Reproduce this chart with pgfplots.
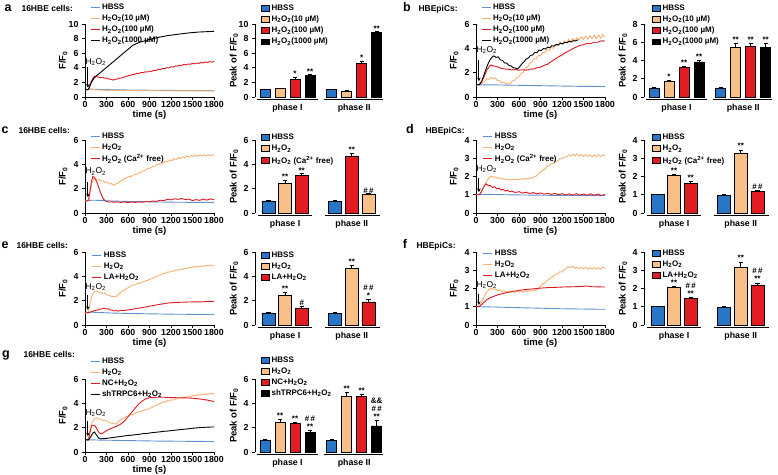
\documentclass[border=0pt]{standalone}
\usepackage{fontspec}
\setmainfont{Liberation Sans}
\usepackage{pgfplots}
\pgfplotsset{compat=1.18}
\usetikzlibrary{arrows.meta}
\definecolor{lblue}{RGB}{95,145,210}
\definecolor{ltan}{RGB}{244,178,115}
\definecolor{lred}{RGB}{222,25,35}
\definecolor{bblue}{RGB}{40,118,200}
\definecolor{btan}{RGB}{248,192,135}
\definecolor{bred}{RGB}{226,28,32}
\newcommand{\tf}{\bfseries\fontsize{8.8}{10}\selectfont}
\newcommand{\lgf}{\bfseries\fontsize{8}{9}\selectfont}
\newcommand{\labf}{\bfseries\fontsize{9.5}{11}\selectfont}
\newcommand{\nf}{\fontsize{8.5}{9}\selectfont}
\newcommand{\letf}{\bfseries\fontsize{12.5}{13}\selectfont}
\newcommand{\cellf}{\bfseries\fontsize{8.5}{10}\selectfont}
\newcommand{\HH}{H\textsubscript{2}O\textsubscript{2}}
\newcommand{\st}[3]{\node[anchor=south, inner sep=0pt, font=\lgf, align=center] at (axis cs:#1,#2) {#3};}
\newcommand{\grp}[2]{\draw[line width=0.9pt] ([yshift=-2.5pt]axis cs:#1,0) -- ([yshift=-2.5pt]axis cs:#2,0);}
\newcommand{\ph}[2]{\node[font=\tf, anchor=center] at ([yshift=-11.5pt]axis cs:#1,0) {#2};}
\newcommand{\arr}[3]{\draw[-{Stealth[length=3.5pt,width=3.5pt]}, line width=0.8pt] (axis cs:40,#1) -- (axis cs:40,#2);
  \node[anchor=west, font=\nf, inner sep=0pt] at (axis cs:5,#3) {\HH};}
\pgfplotsset{
 common/.style={scale only axis, height=73pt, axis lines=left,
   axis line style={-, line width=0.9pt}, tick style={line width=0.9pt, black},
   tick align=outside, major tick length=3pt,
   /pgf/number format/assume math mode=true, /pgf/number format/1000 sep={},
   tick label style={font=\tf},
   label style={font=\labf}, ymin=0, clip=false, legend cell align=left,
   legend style={draw=none, fill=none, font=\lgf, inner sep=0pt, outer sep=0pt,
     row sep=0pt, anchor=north west, cells={anchor=west}}},
 lineax/.style={common, width=129pt, xmin=0, xmax=1800, xtick={0,300,...,1800},
   xticklabel style={inner sep=1.5pt},
   xlabel={time (s)}, ylabel={F/F\textsubscript{0}},
   xlabel style={at={(axis description cs:0.5,-0.25)}, anchor=center},
   ylabel style={at={(axis description cs:-0.17,0.5)}, anchor=center},
   legend image code/.code={\draw[##1, line width=1pt] (0pt,0pt) -- (9pt,0pt);},
   every axis plot/.append style={line width=0.9pt}},
 barax/.style={common, width=128pt, ylabel={Peak of F/F\textsubscript{0}},
   ylabel style={at={(axis description cs:-0.165,0.5)}, anchor=center},
   x axis line style={draw=none}, xtick=\empty},
 four/.style={barax, xmin=0.33, xmax=8.87},
 three/.style={barax, xmin=0.2, xmax=7.87},
 bs/.style={ybar, bar width=#1, bar shift=0pt, draw=black, line width=0.6pt,
   legend image code/.code={\draw[##1, line width=0.6pt] (0pt,-2.8pt) rectangle (8pt,2.8pt);}},
 eb/.style={error bars/.cd, y dir=plus, y explicit,
   error bar style={line width=0.8pt, black},
   error mark options={rotate=90, mark size=2.2pt, line width=0.8pt, black}},
}
\begin{document}
\begin{tikzpicture}[x=1pt,y=1pt]
\useasboundingbox (0,0) rectangle (778,474);
% panel labels
\node[font=\letf, anchor=base] at (8,462) {a};
\node[font=\cellf, anchor=base west] at (18,462) {16HBE cells:};
\node[font=\letf, anchor=base] at (407,462) {b};
\node[font=\cellf, anchor=base west] at (415,462) {HBEpiCs:};
\node[font=\letf, anchor=base] at (5,340) {c};
\node[font=\cellf, anchor=base west] at (15,340) {16HBE cells:};
\node[font=\letf, anchor=base] at (410,340) {d};
\node[font=\cellf, anchor=base west] at (422,340) {HBEpiCs:};
\node[font=\letf, anchor=base] at (5,225) {e};
\node[font=\cellf, anchor=base west] at (13,225) {16HBE cells:};
\node[font=\letf, anchor=base] at (405,225) {f};
\node[font=\cellf, anchor=base west] at (413,225) {HBEpiCs:};
\node[font=\letf, anchor=base] at (6,117) {g};
\node[font=\cellf, anchor=base west] at (20,117) {16HBE cells:};

% ---------------- a line
\begin{axis}[lineax, at={(85pt,377pt)}, anchor=south west, ymax=10, ytick={0,2,...,10},
  legend style={at={(axis description cs:0.039,1.308)}}]
\addplot[lblue] coordinates {(0,1.0) (40,1.0) (60,1.08) (100,1.07) (200,1.04) (300,1.01) (400,0.99) (500,0.98) (600,0.96) (800,0.94) (1000,0.92) (1200,0.9) (1400,0.89) (1600,0.88) (1800,0.87)};
\addlegendentry{HBSS}
\addplot[ltan] coordinates {(0,0.98) (40,0.98) (60,1.02) (100,1.0) (200,0.96) (300,0.93) (400,0.91) (600,0.89) (800,0.87) (1000,0.86) (1200,0.85) (1400,0.84) (1600,0.83) (1800,0.83)};
\addlegendentry{\HH(10 µM)}
\addplot[lred] coordinates {(0,1.0) (30,1.02) (50,1.05) (60,1.3) (75,1.8) (90,2.2) (105,2.5) (120,2.72) (135,2.85) (150,2.78) (180,2.76) (210,2.64) (240,2.7) (270,2.58) (300,2.6) (330,2.46) (360,2.44) (390,2.32) (420,2.42) (450,2.46) (480,2.58) (510,2.6) (540,2.72) (570,2.78) (600,2.92) (630,2.95) (660,3.1) (690,3.1) (720,3.24) (750,3.22) (780,3.36) (810,3.32) (840,3.45) (870,3.42) (900,3.54) (930,3.5) (960,3.66) (990,3.64) (1020,3.78) (1050,3.76) (1080,3.9) (1110,3.88) (1140,4.02) (1170,3.98) (1200,4.14) (1230,4.1) (1260,4.26) (1290,4.22) (1320,4.36) (1350,4.32) (1380,4.46) (1410,4.4) (1440,4.52) (1470,4.48) (1500,4.6) (1530,4.54) (1560,4.66) (1590,4.6) (1620,4.72) (1650,4.66) (1680,4.8) (1710,4.72) (1740,4.84) (1770,4.78) (1800,4.88)};
\addlegendentry{\HH(100 µM)}
\addplot[black] coordinates {(0,1.0) (40,1.0) (60,1.3) (90,2.0) (120,2.5) (160,2.9) (250,3.64) (350,4.46) (450,5.29) (550,6.11) (670,7.1) (750,7.45) (850,7.75) (950,8.0) (1040,8.2) (1150,8.4) (1300,8.6) (1450,8.78) (1590,8.9) (1700,8.95) (1800,9.0)};
\addlegendentry{\HH(1000 µM)}
\arr{4.05}{1.3}{4.8}
\end{axis}

% ---------------- a bar
\begin{axis}[four, at={(255pt,377pt)}, anchor=south west, ymax=10, ytick={0,2,...,10},
  legend style={at={(axis description cs:0.047,1.295)}}]
\addplot[bs=0.667, fill=bblue, eb] coordinates {(1,1.0) +- (0,0.03) (5.45,1.0) +- (0,0.03)};
\addlegendentry{HBSS}
\addplot[bs=0.667, fill=btan, eb] coordinates {(2,1.15) +- (0,0.05) (6.45,0.8) +- (0,0.04)};
\addlegendentry{\HH(10 µM)}
\addplot[bs=0.667, fill=bred, eb] coordinates {(3,2.4) +- (0,0.35) (7.45,4.6) +- (0,0.3)};
\addlegendentry{\HH(100 µM)}
\addplot[bs=0.667, fill=black, eb] coordinates {(4,2.95) +- (0,0.08) (8.45,8.85) +- (0,0.08)};
\addlegendentry{\HH(1000 µM)}
\st{3}{2.8}{*} \st{4}{3.08}{**} \st{7.45}{4.95}{*} \st{8.45}{8.98}{**}
\grp{0.45}{4.55} \grp{4.95}{8.9}
\ph{2.5}{phase I} \ph{6.95}{phase II}
\end{axis}

% ---------------- b line
\begin{axis}[lineax, at={(476pt,377pt)}, anchor=south west, ymax=6, ytick={0,2,4,6},
  legend style={at={(axis description cs:0.039,1.308)}}]
\addplot[lblue] coordinates {(0,1.0) (50,1.0) (200,1.0) (400,0.98) (600,0.96) (800,0.94) (1000,0.92) (1200,0.9) (1400,0.88) (1600,0.87) (1800,0.86)};
\addlegendentry{HBSS}
\addplot[ltan] coordinates {(0,1.0) (30,1.02) (60,1.0) (90,1.2) (120,1.26) (150,1.5) (180,1.44) (210,1.62) (240,1.5) (270,1.56) (300,1.36) (330,1.35) (360,1.16) (390,1.2) (420,1.06) (450,1.16) (480,1.12) (510,1.32) (540,1.36) (570,1.62) (600,1.66) (630,1.96) (660,2.04) (690,2.38) (720,2.44) (750,2.78) (780,2.84) (810,3.14) (840,3.12) (870,3.42) (900,3.38) (930,3.68) (960,3.62) (990,3.9) (1020,3.82) (1050,4.1) (1080,4.0) (1110,4.3) (1140,4.2) (1170,4.48) (1200,4.36) (1230,4.6) (1260,4.44) (1290,4.72) (1320,4.52) (1350,4.8) (1380,4.6) (1410,4.88) (1440,4.68) (1470,4.95) (1500,4.72) (1530,5.0) (1560,4.75) (1590,5.05) (1620,4.78) (1650,5.08) (1680,4.8) (1710,5.1) (1740,4.82) (1770,5.12) (1800,4.9)};
\addlegendentry{\HH(10 µM)}
\addplot[lred] coordinates {(0,1.0) (50,1.02) (100,1.5) (150,2.2) (200,2.62) (250,2.55) (300,2.48) (350,2.36) (400,2.3) (450,2.28) (500,2.22) (550,2.26) (600,2.2) (650,2.24) (700,2.2) (750,2.28) (800,2.3) (850,2.4) (900,2.45) (950,2.6) (1000,2.7) (1050,2.92) (1100,3.1) (1150,3.3) (1200,3.45) (1250,3.66) (1300,3.8) (1350,3.98) (1400,4.1) (1450,4.24) (1500,4.3) (1550,4.4) (1600,4.4) (1650,4.5) (1700,4.5) (1750,4.62) (1800,4.6)};
\addlegendentry{\HH(100 µM)}
\addplot[black] coordinates {(0,1.0) (50,1.02) (80,1.3) (110,1.8) (140,2.3) (170,2.75) (200,3.1) (230,3.3) (250,3.38) (280,3.25) (310,3.3) (340,3.05) (370,3.0) (400,2.8) (430,2.78) (460,2.58) (490,2.55) (520,2.4) (550,2.38) (580,2.3) (610,2.5) (640,2.72) (670,2.9) (700,3.12) (730,3.2) (760,3.42) (790,3.45) (820,3.66) (850,3.65) (880,3.85) (910,3.82) (940,3.98) (970,3.95) (1000,4.1) (1030,4.05) (1060,4.22) (1090,4.18) (1120,4.32) (1150,4.28) (1180,4.42) (1210,4.36) (1240,4.5) (1270,4.46) (1300,4.58) (1330,4.52) (1360,4.64) (1390,4.6) (1420,4.7)};
\addlegendentry{\HH(1000 µM)}
\arr{3.0}{1.3}{3.85}
\end{axis}

% ---------------- b bar
\begin{axis}[four, at={(644pt,377pt)}, anchor=south west, ymax=8, ytick={0,2,...,8},
  legend style={at={(axis description cs:0.0625,1.295)}}]
\addplot[bs=0.667, fill=bblue, eb] coordinates {(1,1.0) +- (0,0.03) (5.45,1.0) +- (0,0.03)};
\addlegendentry{HBSS}
\addplot[bs=0.667, fill=btan, eb] coordinates {(2,1.75) +- (0,0.1) (6.45,5.4) +- (0,0.45)};
\addlegendentry{\HH(10 µM)}
\addplot[bs=0.667, fill=bred, eb] coordinates {(3,3.25) +- (0,0.1) (7.45,5.55) +- (0,0.3)};
\addlegendentry{\HH(100 µM)}
\addplot[bs=0.667, fill=black, eb] coordinates {(4,3.85) +- (0,0.2) (8.45,5.45) +- (0,0.4)};
\addlegendentry{\HH(1000 µM)}
\st{2}{1.9}{*} \st{3}{3.4}{**} \st{4}{4.1}{**}
\st{6.45}{5.9}{**} \st{7.45}{5.9}{**} \st{8.45}{5.9}{**}
\grp{0.45}{4.55} \grp{4.95}{8.9}
\ph{2.5}{phase I} \ph{6.95}{phase II}
\end{axis}

% ---------------- c line
\begin{axis}[lineax, at={(85pt,261pt)}, anchor=south west, ymax=6, ytick={0,2,4,6},
  legend style={at={(axis description cs:0.039,1.13)}}]
\addplot[lblue] coordinates {(0,1.0) (50,1.02) (100,1.05) (200,1.04) (300,1.0) (400,0.98) (600,0.95) (800,0.93) (1000,0.91) (1200,0.89) (1400,0.88) (1600,0.87) (1800,0.86)};
\addlegendentry{HBSS}
\addplot[ltan] coordinates {(0,1.0) (30,1.0) (50,1.05) (70,1.8) (100,2.5) (130,2.85) (160,2.76) (190,2.78) (220,2.62) (250,2.66) (280,2.5) (310,2.54) (340,2.38) (370,2.42) (400,2.28) (430,2.4) (460,2.44) (490,2.62) (520,2.66) (550,2.84) (580,2.86) (610,3.0) (640,2.98) (670,3.12) (700,3.16) (730,3.22) (760,3.32) (790,3.38) (820,3.5) (850,3.52) (880,3.66) (910,3.68) (940,3.82) (970,3.84) (1000,3.98) (1030,3.98) (1060,4.12) (1090,4.1) (1120,4.24) (1150,4.2) (1180,4.36) (1210,4.3) (1240,4.46) (1270,4.4) (1300,4.54) (1330,4.46) (1360,4.62) (1390,4.54) (1420,4.68) (1450,4.6) (1480,4.72) (1510,4.64) (1540,4.76) (1570,4.66) (1600,4.78) (1630,4.68) (1660,4.8) (1690,4.7) (1720,4.8) (1750,4.7) (1780,4.8) (1800,4.74)};
\addlegendentry{\HH}
\addplot[lred] coordinates {(0,1.0) (30,1.0) (50,1.05) (70,1.8) (90,2.6) (110,3.0) (130,2.92) (160,2.62) (190,2.12) (220,1.62) (250,1.22) (280,1.0) (310,0.94) (340,0.9) (370,0.93) (400,0.88) (450,0.92) (500,0.87) (550,0.91) (600,0.86) (650,0.9) (700,0.87) (750,0.92) (800,0.88) (850,0.94) (900,0.92) (950,0.98) (1000,0.96) (1050,1.05) (1100,1.02) (1150,1.12) (1200,1.08) (1250,1.17) (1300,1.12) (1350,1.2) (1400,1.1) (1450,1.14) (1500,1.02) (1550,1.1) (1600,1.04) (1650,1.14) (1700,1.06) (1750,1.16) (1800,1.1)};
\addlegendentry{\HH\ (Ca\textsuperscript{2+} free)}
\arr{2.55}{1.3}{3.4}
\end{axis}

% ---------------- c bar
\begin{axis}[three, at={(255pt,261pt)}, anchor=south west, ymax=6, ytick={0,2,4,6},
  legend style={at={(axis description cs:0.047,1.11)}}]
\addplot[bs=0.78, fill=bblue, eb] coordinates {(1,1.0) +- (0,0.03) (5,0.95) +- (0,0.05)};
\addlegendentry{HBSS}
\addplot[bs=0.78, fill=btan, eb] coordinates {(2,2.4) +- (0,0.3) (7,1.5) +- (0,0.07)};
\addlegendentry{\HH}
\addplot[bs=0.78, fill=bred, eb] coordinates {(3,3.1) +- (0,0.12) (6,4.7) +- (0,0.2)};
\addlegendentry{\HH\ (Ca\textsuperscript{2+} free)}
\st{2}{2.75}{**} \st{3}{3.27}{**} \st{6}{4.95}{**} \st{7}{1.62}{\#\,\#}
\grp{0.4}{3.6} \grp{4.4}{7.7}
\ph{2}{phase I} \ph{6}{phase II}
\end{axis}

% ---------------- d line
\begin{axis}[lineax, at={(476pt,261pt)}, anchor=south west, ymax=4, ytick={0,1,2,3,4},
  legend style={at={(axis description cs:0.054,1.13)}}]
\addplot[lblue] coordinates {(0,1.0) (50,1.0) (100,1.02) (200,1.02) (400,1.0) (600,0.99) (800,0.98) (1000,0.97) (1200,0.96) (1400,0.96) (1600,0.95) (1800,0.95)};
\addlegendentry{HBSS}
\addplot[ltan] coordinates {(0,1.0) (30,1.0) (60,1.08) (90,1.3) (120,1.52) (150,1.75) (180,1.92) (210,2.02) (240,1.96) (270,1.98) (300,1.9) (330,1.93) (360,1.85) (390,1.88) (420,1.82) (450,1.86) (480,1.8) (510,1.85) (540,1.81) (570,1.86) (600,1.82) (630,1.88) (660,1.84) (690,1.9) (720,1.86) (750,1.93) (780,1.9) (810,1.98) (840,2.02) (870,2.16) (900,2.22) (930,2.36) (960,2.4) (990,2.54) (1020,2.58) (1050,2.7) (1080,2.72) (1110,2.84) (1140,2.86) (1170,2.98) (1200,2.96) (1230,3.08) (1260,3.06) (1290,3.18) (1320,3.12) (1350,3.22) (1380,3.14) (1410,3.24) (1440,3.12) (1470,3.2) (1500,3.1) (1530,3.2) (1560,3.1) (1590,3.18) (1620,3.08) (1650,3.18) (1680,3.1) (1710,3.2) (1740,3.1) (1770,3.18) (1800,3.12)};
\addlegendentry{\HH}
\addplot[lred] coordinates {(0,1.0) (30,1.0) (60,1.05) (80,1.2) (110,1.45) (140,1.6) (170,1.5) (200,1.52) (230,1.4) (260,1.44) (290,1.32) (320,1.36) (350,1.26) (380,1.3) (410,1.2) (440,1.25) (470,1.16) (500,1.2) (550,1.12) (600,1.17) (650,1.09) (700,1.14) (750,1.07) (800,1.12) (850,1.05) (900,1.1) (950,1.03) (1000,1.08) (1050,1.02) (1100,1.07) (1150,1.0) (1200,1.06) (1250,0.99) (1300,1.05) (1350,0.98) (1400,1.06) (1450,0.98) (1500,1.04) (1550,0.97) (1600,1.05) (1650,0.97) (1700,1.04) (1750,0.96) (1800,1.02)};
\addlegendentry{\HH\ (Ca\textsuperscript{2+} free)}
\arr{1.9}{1.15}{2.4}
\end{axis}

% ---------------- d bar
\begin{axis}[three, at={(644pt,261pt)}, anchor=south west, ymax=4, ytick={0,1,2,3,4},
  legend style={at={(axis description cs:0.0625,1.11)}}]
\addplot[bs=0.78, fill=bblue, eb] coordinates {(1,1.0) +- (0,0.02) (5,0.97) +- (0,0.04)};
\addlegendentry{HBSS}
\addplot[bs=0.78, fill=btan, eb] coordinates {(2,2.05) +- (0,0.05) (6,3.25) +- (0,0.2)};
\addlegendentry{\HH}
\addplot[bs=0.78, fill=bred, eb] coordinates {(3,1.6) +- (0,0.12) (7,1.2) +- (0,0.05)};
\addlegendentry{\HH\ (Ca\textsuperscript{2+} free)}
\st{2}{2.15}{**} \st{3}{1.77}{**} \st{6}{3.5}{**} \st{7}{1.3}{\#\,\#}
\grp{0.4}{3.6} \grp{4.4}{7.7}
\ph{2}{phase I} \ph{6}{phase II}
\end{axis}

% ---------------- e line
\begin{axis}[lineax, at={(85pt,149pt)}, anchor=south west, ymax=6, ytick={0,2,4,6},
  legend style={at={(axis description cs:0.054,1.034)}}]
\addplot[lblue] coordinates {(0,1.0) (50,1.05) (100,1.05) (200,1.03) (300,1.0) (400,0.98) (600,0.95) (800,0.93) (1000,0.91) (1200,0.89) (1400,0.88) (1600,0.87) (1800,0.86)};
\addlegendentry{HBSS}
\addplot[ltan] coordinates {(0,1.0) (30,1.0) (50,1.05) (70,1.8) (100,2.45) (130,2.75) (160,2.8) (190,2.7) (220,2.72) (250,2.58) (280,2.6) (310,2.46) (340,2.44) (370,2.32) (400,2.36) (430,2.3) (460,2.5) (490,2.62) (520,2.8) (550,2.86) (580,3.02) (610,3.06) (640,3.22) (670,3.28) (700,3.3) (730,3.4) (760,3.42) (790,3.52) (820,3.55) (850,3.64) (880,3.68) (910,3.78) (940,3.82) (970,3.94) (1000,3.96) (1030,4.1) (1060,4.12) (1090,4.26) (1120,4.24) (1150,4.36) (1180,4.34) (1210,4.44) (1240,4.42) (1270,4.52) (1300,4.5) (1330,4.6) (1360,4.56) (1390,4.68) (1420,4.64) (1450,4.74) (1480,4.7) (1510,4.8) (1540,4.74) (1570,4.84) (1600,4.78) (1630,4.88) (1660,4.8) (1690,4.92) (1720,4.84) (1750,4.94) (1780,4.84) (1800,4.9)};
\addlegendentry{\HH}
\addplot[lred] coordinates {(0,1.0) (50,1.02) (80,1.08) (110,1.12) (140,1.2) (170,1.22) (200,1.3) (230,1.32) (260,1.38) (290,1.32) (320,1.34) (350,1.24) (380,1.22) (410,1.16) (440,1.18) (470,1.14) (500,1.2) (550,1.2) (600,1.24) (650,1.28) (700,1.34) (750,1.38) (800,1.44) (850,1.48) (900,1.55) (950,1.6) (1000,1.65) (1050,1.7) (1100,1.75) (1150,1.8) (1200,1.83) (1300,1.86) (1400,1.88) (1500,1.9) (1600,1.9) (1700,1.93) (1800,1.95)};
\addlegendentry{LA+\HH}
\arr{2.5}{1.25}{3.1}
\end{axis}

% ---------------- e bar
\begin{axis}[three, at={(255pt,149pt)}, anchor=south west, ymax=6, ytick={0,2,4,6},
  legend style={at={(axis description cs:0.047,1.034)}}]
\addplot[bs=0.78, fill=bblue, eb] coordinates {(1,1.0) +- (0,0.02) (5,0.97) +- (0,0.05)};
\addlegendentry{HBSS}
\addplot[bs=0.78, fill=btan, eb] coordinates {(2,2.4) +- (0,0.3) (6,4.7) +- (0,0.2)};
\addlegendentry{\HH}
\addplot[bs=0.78, fill=bred, eb] coordinates {(3,1.4) +- (0,0.1) (7,1.9) +- (0,0.2)};
\addlegendentry{LA+\HH}
\st{2}{2.75}{**} \st{3}{1.55}{\#} \st{6}{4.95}{**} \st{7}{2.15}{\#\,\#\\[-1pt]*}
\grp{0.4}{3.6} \grp{4.4}{7.7}
\ph{2}{phase I} \ph{6}{phase II}
\end{axis}

% ---------------- f line
\begin{axis}[lineax, at={(476pt,149pt)}, anchor=south west, ymax=4, ytick={0,1,2,3,4},
  legend style={at={(axis description cs:0.054,1.062)}}]
\addplot[lblue] coordinates {(0,1.0) (50,1.0) (200,0.99) (400,0.97) (600,0.95) (800,0.93) (1000,0.91) (1200,0.89) (1400,0.88) (1600,0.87) (1800,0.86)};
\addlegendentry{HBSS}
\addplot[ltan] coordinates {(0,1.0) (30,1.0) (60,1.1) (90,1.35) (120,1.6) (150,1.82) (180,1.95) (210,2.02) (240,1.95) (270,1.98) (300,1.88) (330,1.92) (360,1.84) (390,1.88) (420,1.8) (450,1.85) (480,1.8) (510,1.84) (540,1.79) (570,1.85) (600,1.8) (630,1.86) (660,1.82) (690,1.88) (720,1.84) (750,1.9) (780,1.86) (810,1.9) (840,1.88) (870,2.02) (900,2.12) (930,2.26) (960,2.3) (990,2.44) (1020,2.5) (1050,2.62) (1080,2.66) (1110,2.78) (1140,2.8) (1170,2.92) (1200,2.9) (1230,3.04) (1260,3.08) (1290,3.2) (1320,3.14) (1350,3.22) (1380,3.1) (1410,3.18) (1440,3.08) (1470,3.16) (1500,3.08) (1530,3.16) (1560,3.06) (1590,3.14) (1620,3.06) (1650,3.14) (1680,3.06) (1710,3.14) (1740,3.06) (1770,3.18) (1800,3.1)};
\addlegendentry{\HH}
\addplot[lred] coordinates {(0,1.0) (50,1.02) (100,1.2) (150,1.38) (200,1.5) (300,1.65) (400,1.75) (500,1.83) (600,1.9) (700,1.95) (800,1.98) (900,2.02) (1000,2.05) (1100,2.06) (1200,2.08) (1300,2.09) (1400,2.1) (1500,2.12) (1550,2.14) (1600,2.1) (1700,2.09) (1800,2.08)};
\addlegendentry{LA+\HH}
\arr{1.7}{1.1}{2.2}
\end{axis}

% ---------------- f bar
\begin{axis}[three, at={(644pt,149pt)}, anchor=south west, ymax=4, ytick={0,1,2,3,4},
  legend style={at={(axis description cs:0.0625,1.062)}}]
\addplot[bs=0.78, fill=bblue, eb] coordinates {(1,1.0) +- (0,0.02) (5,0.97) +- (0,0.04)};
\addlegendentry{HBSS}
\addplot[bs=0.78, fill=btan, eb] coordinates {(2,2.05) +- (0,0.05) (6,3.15) +- (0,0.3)};
\addlegendentry{\HH}
\addplot[bs=0.78, fill=bred, eb] coordinates {(3,1.47) +- (0,0.05) (7,2.2) +- (0,0.1)};
\addlegendentry{LA+\HH}
\st{2}{2.15}{**} \st{3}{1.57}{\#\,\#\\[-1pt]**} \st{6}{3.5}{**} \st{7}{2.35}{\#\,\#\\[-1pt]**}
\grp{0.4}{3.6} \grp{4.4}{7.7}
\ph{2}{phase I} \ph{6}{phase II}
\end{axis}

% ---------------- g line
\begin{axis}[lineax, at={(85pt,22pt)}, anchor=south west, ymax=6, ytick={0,2,4,6},
  legend style={at={(axis description cs:0.039,1.322)}}]
\addplot[lblue] coordinates {(0,1.0) (50,1.0) (100,1.0) (200,0.98) (400,0.96) (600,0.94) (800,0.92) (1000,0.9) (1200,0.89) (1400,0.88) (1600,0.87) (1800,0.86)};
\addlegendentry{HBSS}
\addplot[ltan] coordinates {(0,1.0) (30,1.0) (50,1.05) (70,1.8) (100,2.45) (130,2.75) (160,2.8) (190,2.7) (220,2.72) (250,2.6) (280,2.62) (310,2.5) (340,2.44) (370,2.36) (400,2.34) (430,2.3) (460,2.46) (490,2.6) (520,2.74) (550,2.8) (580,2.94) (610,2.96) (640,3.06) (670,3.1) (700,3.18) (730,3.24) (760,3.3) (790,3.38) (820,3.42) (850,3.5) (880,3.52) (910,3.62) (940,3.66) (970,3.8) (1000,3.84) (1030,3.98) (1060,4.0) (1090,4.12) (1120,4.1) (1150,4.22) (1180,4.2) (1210,4.3) (1240,4.28) (1270,4.38) (1300,4.36) (1330,4.46) (1360,4.42) (1390,4.52) (1420,4.5) (1450,4.6) (1480,4.56) (1510,4.66) (1540,4.62) (1570,4.72) (1600,4.66) (1630,4.76) (1660,4.7) (1690,4.8) (1720,4.74) (1750,4.84) (1780,4.76) (1800,4.82)};
\addlegendentry{\HH}
\addplot[lred] coordinates {(0,1.0) (50,1.02) (70,1.6) (90,2.15) (110,2.2) (140,2.15) (170,1.85) (200,1.55) (230,1.5) (260,1.6) (300,1.75) (350,1.9) (400,2.02) (450,2.15) (500,2.3) (550,2.55) (600,2.9) (650,3.25) (700,3.6) (750,3.95) (800,4.2) (850,4.38) (900,4.46) (1000,4.5) (1100,4.5) (1200,4.47) (1300,4.46) (1400,4.45) (1500,4.42) (1600,4.36) (1700,4.27) (1800,4.15)};
\addlegendentry{NC+\HH}
\addplot[black] coordinates {(0,1.0) (50,1.0) (80,1.25) (110,1.55) (130,1.65) (160,1.4) (190,1.15) (220,1.08) (260,1.1) (300,1.12) (350,1.16) (400,1.2) (450,1.24) (500,1.28) (550,1.32) (600,1.36) (650,1.38) (700,1.42) (750,1.45) (800,1.5) (850,1.52) (900,1.56) (950,1.6) (1000,1.63) (1050,1.66) (1100,1.7) (1150,1.72) (1200,1.76) (1250,1.79) (1300,1.82) (1350,1.85) (1400,1.88) (1450,1.91) (1500,1.95) (1550,1.98) (1600,2.0) (1650,2.02) (1700,2.04) (1750,2.05) (1800,2.06)};
\addlegendentry{shTRPC6+\HH}
\arr{2.55}{1.3}{3.2}
\end{axis}

% ---------------- g bar
\begin{axis}[four, at={(255pt,22pt)}, anchor=south west, ymax=6, ytick={0,2,4,6},
  legend style={at={(axis description cs:0.047,1.336)}}]
\addplot[bs=0.667, fill=bblue, eb] coordinates {(1,1.0) +- (0,0.02) (5.45,0.95) +- (0,0.05)};
\addlegendentry{HBSS}
\addplot[bs=0.667, fill=btan, eb] coordinates {(2,2.45) +- (0,0.2) (6.45,4.6) +- (0,0.3)};
\addlegendentry{\HH}
\addplot[bs=0.667, fill=bred, eb] coordinates {(3,2.35) +- (0,0.1) (7.45,4.55) +- (0,0.2)};
\addlegendentry{NC+\HH}
\addplot[bs=0.667, fill=black, eb] coordinates {(4,1.6) +- (0,0.2) (8.45,2.15) +- (0,0.45)};
\addlegendentry{shTRPC6+\HH}
\st{2}{2.7}{**} \st{3}{2.5}{**} \st{4}{1.85}{\#\,\#\\[-1pt]**}
\st{6.45}{4.95}{**} \st{7.45}{4.8}{**} \st{8.45}{2.65}{\&\&\\[-1pt]\#\,\#\\[-1pt]**}
\grp{0.45}{4.55} \grp{4.95}{8.9}
\ph{2.5}{phase I} \ph{6.95}{phase II}
\end{axis}
\end{tikzpicture}
\end{document}
